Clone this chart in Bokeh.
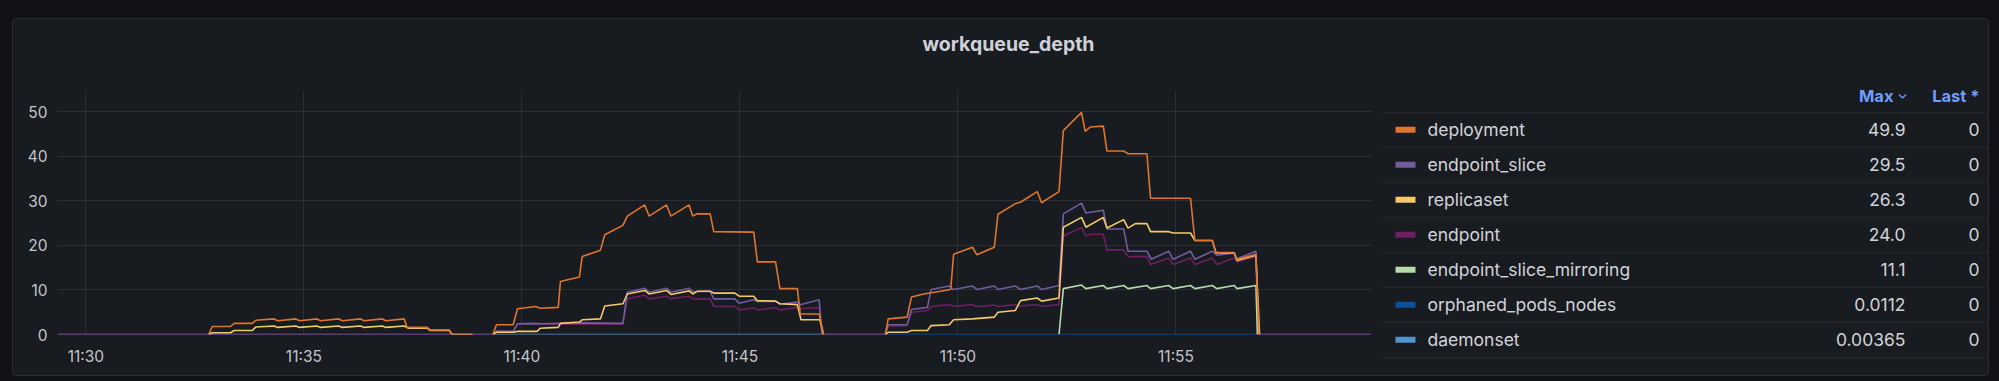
import datetime as dt
from bokeh.plotting import figure
from bokeh.models import Range1d, FixedTicker, DatetimeTickFormatter, ColumnDataSource
from bokeh.layouts import row, column
from bokeh.embed import file_html
from bokeh.resources import INLINE
from bokeh.core.properties import value

# ---------------- data (seconds after 11:30:00, value) ----------------
deployment_t = [169, 174, 199, 204, 229, 234, 259, 264, 289, 294, 318, 323, 348, 353, 378, 383, 408, 413, 438, 442, 470, 474, 500, 504, 532,
                546,
                560, 565, 588, 594, 619, 625, 650, 653, 679, 683, 708, 714, 739, 745, 769, 775, 799, 805, 830, 835, 841, 859, 864, 919, 924, 949, 955, 979, 983, 1009, 1015,
                1050,
                1100, 1104, 1130, 1136, 1153, 1176, 1190, 1194, 1220, 1226, 1250, 1255, 1279, 1286, 1309, 1315, 1339, 1345, 1370, 1375, 1382, 1400, 1405, 1428, 1434, 1460, 1465, 1520, 1526, 1550, 1555, 1580, 1584, 1610, 1614]
deployment_v = [0, 1.8, 1.8, 2.5, 2.5, 3.2, 3.5, 3.1, 3.5, 3.1, 3.5, 3.1, 3.5, 3.1, 3.5, 3.1, 3.5, 3.1, 3.5, 1.6, 1.6, 1.0, 1.0, 0, 0,
                None,
                0, 2.2, 2.2, 5.8, 6.3, 5.9, 6.1, 11.9, 12.9, 17.5, 18.9, 22.4, 24.5, 26.6, 29.1, 26.6, 29.1, 26.6, 29.1, 26.6, 27.1, 27.1, 23.1, 23.0, 16.3, 16.3, 10.3, 10.3, 4.6, 4.6, 0,
                None,
                0, 3.5, 3.9, 8.4, 9.1, 9.7, 10.1, 18.0, 19.6, 17.9, 19.6, 27.0, 29.4, 29.7, 32.1, 29.6, 32.1, 45.8, 49.9, 45.6, 46.6, 46.8, 41.2, 41.2, 40.6, 40.6, 30.6, 30.6, 21.1, 21.1, 18.4, 18.4, 16.9, 18.0, 0]

replicaset_t = [169, 174, 199, 204, 229, 234, 259, 264, 289, 294, 318, 323, 348, 353, 378, 383, 408, 413, 438, 444, 470, 474, 500, 504, 532,
                546,
                560, 565, 588, 594, 621, 625, 650, 653, 679, 683, 708, 714, 739, 745, 769, 775, 799, 805, 830, 835, 841, 859, 864, 893, 899, 919, 924, 949, 955, 979, 984, 1010, 1015,
                1050,
                1100, 1104, 1130, 1136, 1158, 1163, 1188, 1194, 1220, 1250, 1255, 1279, 1286, 1309, 1315, 1339, 1345, 1370, 1376, 1400, 1405, 1428, 1434, 1444, 1460, 1465, 1490, 1496, 1520, 1526, 1550, 1555, 1580, 1584, 1610, 1615]
replicaset_v = [0, 0.4, 0.4, 0.9, 0.9, 1.7, 1.9, 1.6, 1.9, 1.6, 1.9, 1.6, 1.9, 1.6, 1.9, 1.6, 1.9, 1.6, 1.9, 1.4, 1.4, 0.9, 0.9, 0, 0,
                None,
                0, 0.5, 0.5, 0.7, 0.7, 1.4, 1.6, 2.5, 2.8, 3.3, 3.5, 6.4, 6.9, 9.1, 9.9, 9.1, 9.9, 9.0, 9.8, 9.1, 9.7, 9.7, 9.3, 9.3, 8.6, 8.6, 7.6, 7.5, 6.9, 6.7, 3.3, 3.3, 0,
                None,
                0, 0.5, 0.5, 0.9, 0.9, 2.0, 2.2, 3.3, 3.5, 3.9, 5.0, 5.4, 7.6, 8.2, 7.5, 8.2, 24.1, 26.3, 24.1, 26.3, 23.9, 25.8, 23.9, 24.9, 24.9, 23.1, 23.1, 22.8, 22.8, 21.1, 21.1, 18.3, 18.3, 16.6, 17.8, 0]

endpoint_slice_t = [-39, 560, 565, 588, 594, 619, 625, 679, 739, 745, 769, 775, 799, 805, 830, 835, 859, 864, 893, 899, 919, 924, 949, 955, 979, 983, 1009, 1013,
                    1100, 1104, 1130, 1136, 1158, 1163, 1188, 1194, 1220, 1226, 1250, 1255, 1279, 1286, 1309, 1315, 1339, 1345, 1370, 1376, 1400, 1405, 1428, 1434, 1460, 1466, 1490, 1496, 1520, 1526, 1550, 1556, 1580, 1584, 1610, 1613, 1769]
endpoint_slice_v = [0, 0, 0.7, 0.7, 2.4, 2.5, 2.4, 2.6, 2.5, 9.5, 10.4, 9.5, 10.4, 9.5, 10.4, 9.6, 9.7, 8.0, 8.0, 7.0, 7.8, 7.4, 7.5, 6.8, 7.3, 6.7, 7.8, 0,
                    0, 2.2, 2.2, 5.6, 6.1, 10.1, 10.9, 10.1, 10.9, 10.1, 10.9, 10.1, 10.9, 10.1, 10.9, 10.1, 11.0, 27.1, 29.5, 27.3, 27.9, 23.7, 23.7, 18.7, 18.7, 16.9, 18.7, 16.9, 18.7, 16.9, 18.7, 17.8, 18.3, 17.0, 18.7, 0, 0]

endpoint_t = [-39, 560, 565, 588, 594, 739, 745, 769, 775, 799, 805, 830, 835, 859, 864, 893, 899, 919, 924, 949, 955, 979, 983, 1009, 1013,
              1100, 1104, 1130, 1136, 1158, 1163, 1188, 1194, 1220, 1226, 1250, 1255, 1279, 1286, 1309, 1315, 1339, 1345, 1370, 1376, 1382, 1400, 1405, 1428, 1434, 1460, 1465, 1490, 1496, 1520, 1526, 1550, 1556, 1580, 1584, 1610, 1613, 1769]
endpoint_v = [0, 0, 0.7, 0.7, 2.3, 2.3, 8.0, 8.8, 8.0, 8.6, 8.0, 8.6, 8.0, 8.0, 6.3, 6.3, 5.5, 6.0, 5.5, 6.0, 5.5, 6.1, 5.8, 6.1, 0,
              0, 1.9, 2.0, 5.0, 5.4, 6.3, 6.7, 6.3, 6.7, 6.3, 6.6, 6.3, 6.7, 6.4, 6.7, 6.3, 6.7, 22.1, 24.0, 22.1, 22.5, 22.5, 19.0, 19.0, 17.5, 17.5, 15.7, 17.2, 15.7, 17.2, 15.7, 17.2, 15.7, 17.2, 16.3, 17.5, 0, 0]

mirroring_t = [1339, 1345, 1370, 1376, 1400, 1405, 1428, 1434, 1460, 1465, 1490, 1496, 1520, 1526, 1550, 1556, 1580, 1584, 1610, 1612]
mirroring_v = [0, 10.3, 11.1, 10.3, 11.0, 10.3, 11.0, 10.3, 11.0, 10.3, 11.0, 10.3, 11.0, 10.3, 11.0, 10.3, 11.0, 10.3, 11.0, 0]

orphaned_t = [1100, 1345, 1613]
orphaned_v = [0, 0.0112, 0]
daemonset_t = [560, 745, 1013]
daemonset_v = [0, 0.00365, 0]

legend_names = ["deployment", "endpoint_slice", "replicaset", "endpoint",
                "endpoint_slice_mirroring", "orphaned_pods_nodes", "daemonset"]
legend_max = ["49.9", "29.5", "26.3", "24.0", "11.1", "0.0112", "0.00365"]
legend_last = ["0", "0", "0", "0", "0", "0", "0"]
colors = {"deployment": "#E0752D", "endpoint_slice": "#705DA0", "replicaset": "#F2C96D",
          "endpoint": "#6D1F62", "endpoint_slice_mirroring": "#B7DBAB",
          "orphaned_pods_nodes": "#0A50A1", "daemonset": "#5195CE"}

y_ticks = [0, 10, 20, 30, 40, 50]
x_tick_labels = ["11:30", "11:35", "11:40", "11:45", "11:50", "11:55"]
x_start_s, x_end_s = -39, 1769
title_text = "workqueue_depth"

# ---------------- helpers ----------------
BASE = dt.datetime(2024, 1, 1, 11, 30, 0)
def to_dt(s):
    return BASE + dt.timedelta(seconds=s)

def src(ts, vs):
    return ColumnDataSource(dict(x=[to_dt(t) for t in ts],
                                 y=[float("nan") if v is None else v for v in vs]))

FONT = "Inter"
PANEL = "#181b1f"
GRID = "#2b2e34"
TICK_COLOR = "#c4c5cc"

# ---------------- chart ----------------
p = figure(width=1365, height=306, x_axis_type="datetime", output_backend="svg",
           toolbar_location=None, frame_align=False,
           x_range=Range1d(to_dt(x_start_s), to_dt(x_end_s)), y_range=Range1d(0, 54.8),
           min_border_left=44, min_border_right=7, min_border_top=21, min_border_bottom=41,
           background_fill_color=PANEL, border_fill_color=PANEL, outline_line_color=None)

series = [("daemonset", daemonset_t, daemonset_v),
          ("orphaned_pods_nodes", orphaned_t, orphaned_v),
          ("endpoint", endpoint_t, endpoint_v),
          ("endpoint_slice", endpoint_slice_t, endpoint_slice_v),
          ("endpoint_slice_mirroring", mirroring_t, mirroring_v),
          ("replicaset", replicaset_t, replicaset_v),
          ("deployment", deployment_t, deployment_v)]
for name, ts, vs in series:
    p.line("x", "y", source=src(ts, vs), line_color=colors[name], line_width=1.6)

x_ticks_ms = []
for lab in x_tick_labels:
    hh, mm = lab.split(":")
    d = dt.datetime(2024, 1, 1, int(hh), int(mm))
    x_ticks_ms.append((d - dt.datetime(1970, 1, 1)).total_seconds() * 1000)

p.xaxis.ticker = FixedTicker(ticks=x_ticks_ms)
p.xaxis.formatter = DatetimeTickFormatter(seconds="%H:%M", minsec="%H:%M", minutes="%H:%M",
                                          hourmin="%H:%M", hours="%H:%M", days="%H:%M")
p.yaxis.ticker = FixedTicker(ticks=y_ticks)
for ax in (p.xaxis[0], p.yaxis[0]):
    ax.axis_line_color = None
    ax.major_tick_line_color = None
    ax.minor_tick_line_color = None
    ax.major_tick_in = 0
    ax.major_tick_out = 0
    ax.minor_tick_in = 0
    ax.minor_tick_out = 0
    ax.major_label_text_font = FONT
    ax.major_label_text_font_size = "15.5px"
    ax.major_label_text_color = TICK_COLOR
p.yaxis.major_label_standoff = 10
p.xaxis.major_label_standoff = 12
p.xgrid.ticker = FixedTicker(ticks=x_ticks_ms)
p.ygrid.ticker = FixedTicker(ticks=y_ticks)
p.xgrid.grid_line_color = GRID
p.ygrid.grid_line_color = GRID

# ---------------- legend table ----------------
lg = figure(width=610, height=306, output_backend="svg", toolbar_location=None,
            frame_align=False,
            x_range=Range1d(1378, 1988), y_range=Range1d(375, 69),
            min_border=0, x_axis_location=None, y_axis_location=None,
            background_fill_color=PANEL, border_fill_color=PANEL, outline_line_color=None)
lg.grid.visible = False

n = len(legend_names)
row_y = [129.3 + 35 * i for i in range(n)]
sep_y = [112 + 35 * i for i in range(n + 1)]
lg.segment(x0=[1382] * len(sep_y), x1=[1988] * len(sep_y), y0=sep_y, y1=sep_y,
           line_color="#23262b", line_width=1.5)
lg.rect(x=[1405] * n, y=row_y, width=20, height=6,
        fill_color=[colors[nm] for nm in legend_names], line_color=None)
lg.text(x=[1427] * n, y=row_y, text=legend_names, text_font=value(FONT),
        text_font_size="17.5px", text_color="#d2d3da", text_baseline="middle", text_align="left")
lg.text(x=[1905] * n, y=row_y, text=legend_max, text_font=value(FONT),
        text_font_size="17.5px", text_color="#d2d3da", text_baseline="middle", text_align="right")
lg.text(x=[1979] * n, y=row_y, text=legend_last, text_font=value(FONT),
        text_font_size="17.5px", text_color="#d2d3da", text_baseline="middle", text_align="right")
lg.text(x=[1893, 1979], y=[95.5, 95.5], text=["Max", "Last *"], text_font=value(FONT),
        text_font_size="16.5px", text_font_style="bold", text_color="#6e9fff",
        text_baseline="middle", text_align="right")
# sort chevron next to "Max"
lg.line(x=[1898.5, 1902, 1905.5], y=[94, 97.5, 94], line_color="#6e9fff", line_width=1.3)

# ---------------- title ----------------
tf = figure(width=1975, height=50, output_backend="svg", toolbar_location=None,
            frame_align=False,
            x_range=Range1d(13, 1988), y_range=Range1d(69, 19),
            min_border=0, x_axis_location=None, y_axis_location=None,
            background_fill_color=PANEL, border_fill_color=PANEL, outline_line_color=None)
tf.grid.visible = False
tf.text(x=[1008], y=[43], text=[title_text], text_font=value(FONT), text_font_size="19.5px",
        text_font_style="bold", text_color="#cfd0d8", text_baseline="middle", text_align="center")

layout = column(tf, row(p, lg, spacing=0), spacing=0,
                styles={"background-color": PANEL, "border": "1px solid #2a2d33",
                        "border-radius": "4px"})

html = file_html(layout, INLINE, title="workqueue_depth")
html = html.replace("</head>",
                    "<style>html,body{background:#111217;overflow:hidden;}"
                    "body{margin:8px;padding:10px 0 0 4px;}</style></head>", 1)
open("out.html", "w").write(html)
